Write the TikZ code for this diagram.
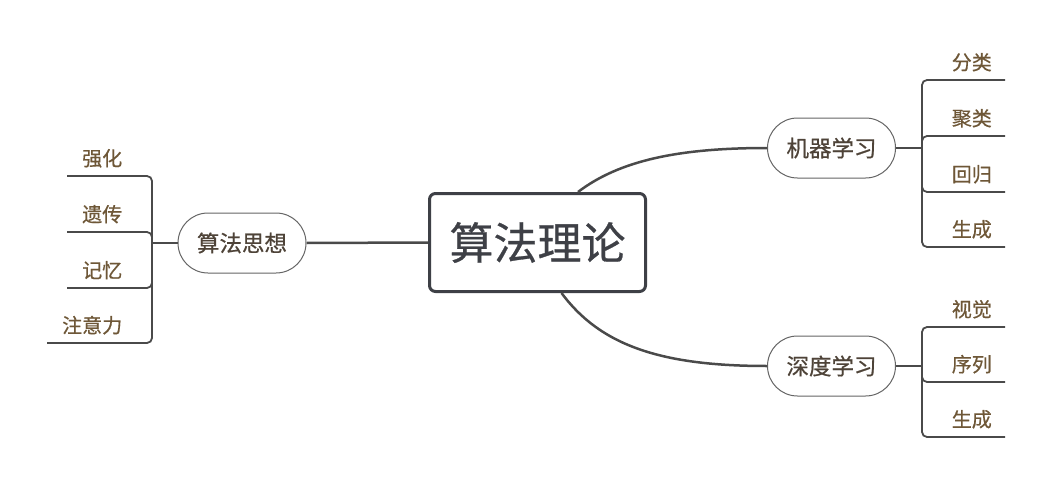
\documentclass[tikz,border=0pt]{standalone}
\usepackage{fontspec}
\newfontfamily\cjk[FakeBold=0.6]{Noto Sans CJK SC}
\definecolor{linec}{HTML}{4A4A4A}
\definecolor{maintext}{HTML}{3E4046}
\definecolor{subtext}{HTML}{4E4338}
\definecolor{leaftext}{HTML}{6E5737}
\begin{document}
\begin{tikzpicture}[x=1pt,y=-1pt,
  central/.style={draw=maintext,line width=3pt,fill=white,rounded corners=6pt,
    minimum width=216pt,minimum height=98pt,inner sep=0pt,
    font=\cjk\fontsize{44}{50}\selectfont,text=maintext},
  pill/.style={draw=linec!85,line width=1pt,fill=white,rounded corners=30pt,
    minimum width=128pt,minimum height=60pt,inner sep=0pt,
    font=\cjk\fontsize{22.5}{26}\selectfont,text=subtext},
  leaf/.style={inner xsep=0pt,inner ysep=0pt,text depth=10pt,
    font=\cjk\fontsize{20}{24}\selectfont,text=leaftext},
  conn/.style={draw=linec,line width=2.5pt},
  brk/.style={draw=linec,line width=1.8pt,rounded corners=5pt}]
\useasboundingbox (0,0) rectangle (1057,487);

% central and main branches
\node[central] (c) at (537.5,242.5) {算法理论};
\node[pill] (pL) at (242,243) {算法思想};
\node[pill] (pM) at (831.5,148) {机器学习};
\node[pill] (pD) at (831.5,366) {深度学习};

\draw[conn] (pL.east) -- (c.west);
\draw[conn] ([xshift=40.5pt]c.north) .. controls (620,160) and (680,148) .. (pM.west);
\draw[conn] ([xshift=24pt]c.south) .. controls (600,345) and (660,366) .. (pD.west);

% junction points
\coordinate (jL) at (152,243);
\coordinate (jM) at (922,148);
\coordinate (jD) at (922,366);

% left leaves
\node[leaf,minimum width=70pt,anchor=south west] (l1) at (67,176) {强化};
\node[leaf,minimum width=70pt,anchor=south west] (l2) at (67,232) {遗传};
\node[leaf,minimum width=70pt,anchor=south west] (l3) at (67,288) {记忆};
\node[leaf,minimum width=90pt,anchor=south west] (l4) at (47,343) {注意力};

\draw[brk] (pL.west) -- (jL);
\foreach \n in {l1,l2,l3,l4} \draw[brk] (jL) |- (\n.south west);

% machine learning leaves
\node[leaf,minimum width=66pt,anchor=south east] (m1) at (1005,80) {分类};
\node[leaf,minimum width=66pt,anchor=south east] (m2) at (1005,136) {聚类};
\node[leaf,minimum width=66pt,anchor=south east] (m3) at (1005,192) {回归};
\node[leaf,minimum width=66pt,anchor=south east] (m4) at (1005,247) {生成};

\draw[brk] (pM.east) -- (jM);
\foreach \n in {m1,m2,m3,m4} \draw[brk] (jM) |- (\n.south east);

% deep learning leaves
\node[leaf,minimum width=66pt,anchor=south east] (d1) at (1005,327) {视觉};
\node[leaf,minimum width=66pt,anchor=south east] (d2) at (1005,382) {序列};
\node[leaf,minimum width=66pt,anchor=south east] (d3) at (1005,437) {生成};

\draw[brk] (pD.east) -- (jD);
\foreach \n in {d1,d2,d3} \draw[brk] (jD) |- (\n.south east);
\end{tikzpicture}
\end{document}
